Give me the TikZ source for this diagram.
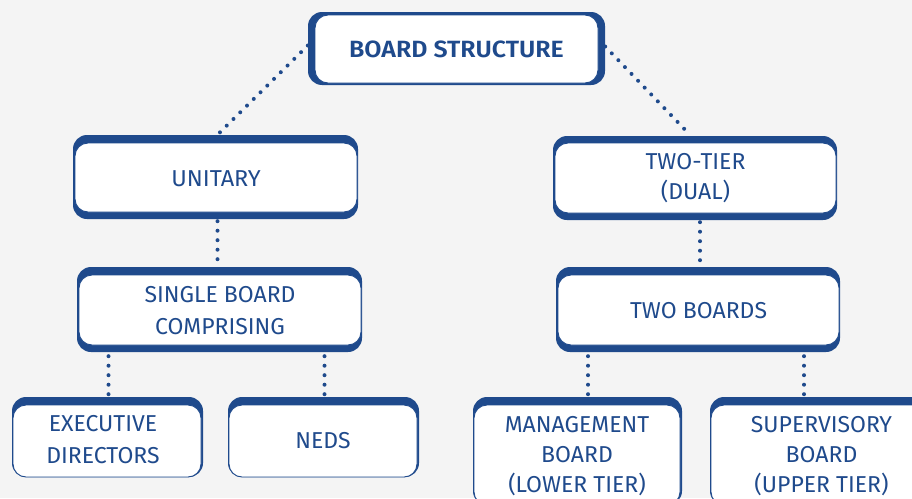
\documentclass[tikz,border=0pt]{standalone}
\usepackage{fontspec}
\setmainfont{Fira Sans}[BoldFont={* SemiBold}]
\usetikzlibrary{fit}
\definecolor{bblue}{HTML}{1F4A8C}
\definecolor{bgc}{HTML}{F4F4F4}
\tikzset{
  outerbox/.style={fill=bblue, draw=none, rounded corners=14pt, inner sep=0pt},
  innerbox/.style={fill=white, draw=bblue, line width=0.9pt, rounded corners=13pt, inner sep=0pt},
  label/.style={text=bblue, align=center, font=\fontsize{23}{30}\selectfont, inner sep=0pt},
  dots/.style={draw=bblue, line width=4pt, line cap=round, dash pattern=on 0pt off 9.5pt}
}
% [label options], name, outer corner 1, outer corner 2, inner corner 1, inner corner 2, text
\newcommand\mkbox[7][]{%
  \node[outerbox, fit={(#3)(#4)}] (#2o) {};
  \node[innerbox, fit={(#5)(#6)}] (#2) {};
  \node[label,#1] (#2t) at (#2.center) {#7};
}
\begin{document}
\begin{tikzpicture}[x=1pt,y=-1pt]
  \fill[bgc] (0,0) rectangle (912,498);
  \useasboundingbox (0,0) rectangle (912,498);
  \clip (0,0) rectangle (912,498);

  \mkbox[font=\fontsize{23.5}{30}\selectfont\bfseries, xscale=1.06]{root}{308,12}{605,85}{315,15}{598,83}{BOARD STRUCTURE}
  \mkbox[yshift=-1pt, xscale=1.02]{unitary}{73,135}{358,219}{75,143}{357,212}{UNITARY}
  \mkbox{twotier}{553,136}{837,220}{555,143}{836,213}{TWO-TIER\\(DUAL)}
  \mkbox[yshift=-1pt, font=\fontsize{23}{32}\selectfont]{single}{77,267}{362,352}{79,275}{361,345}{SINGLE BOARD\\COMPRISING}
  \mkbox[yshift=-1pt]{twoboards}{556,267}{840,352}{558,275}{839,345}{TWO BOARDS}
  \mkbox[xshift=-4pt, yshift=1pt, font=\fontsize{23}{32}\selectfont]{exec}{12,397}{203,477}{13,405}{201,477}{EXECUTIVE\\DIRECTORS}
  \mkbox{neds}{228,397}{419,477}{229,405}{417,477}{NEDS}
  \mkbox[yshift=-1pt]{mgmt}{473,397}{682,505}{474,405}{680,505}{MANAGEMENT\\BOARD\\(LOWER TIER)}
  \mkbox[yshift=-1pt]{sup}{710,397}{934,505}{711,405}{932,505}{SUPERVISORY\\BOARD\\(UPPER TIER)}

  % connectors
  \draw[dots] ([yshift=3pt]rooto.west) -- ([xshift=4pt,yshift=2pt]unitaryo.north);
  \draw[dots] ([yshift=2pt]rooto.east) -- ([xshift=-7pt,yshift=3pt]twotiero.north);
  \draw[dots] ([xshift=2pt,yshift=-2pt]unitaryo.south) -- ([xshift=-2pt,yshift=2pt]singleo.north);
  \draw[dots] ([xshift=5pt,yshift=-2pt]twotiero.south) -- ([xshift=2pt,yshift=2pt]twoboardso.north);
  \coordinate (sl) at ([xshift=-111pt]singleo.south);
  \coordinate (sr) at ([xshift=105pt]singleo.south);
  \coordinate (tl) at ([xshift=-110pt]twoboardso.south);
  \coordinate (tr) at ([xshift=106pt]twoboardso.south);
  \draw[dots] ([yshift=-4pt]sl) -- (sl |- execo.north);
  \draw[dots] ([yshift=-4pt]sr) -- (sr |- nedso.north);
  \draw[dots] ([yshift=-4pt]tl) -- (tl |- mgmto.north);
  \draw[dots] ([yshift=-4pt]tr) -- (tr |- supo.north);
\end{tikzpicture}
\end{document}
